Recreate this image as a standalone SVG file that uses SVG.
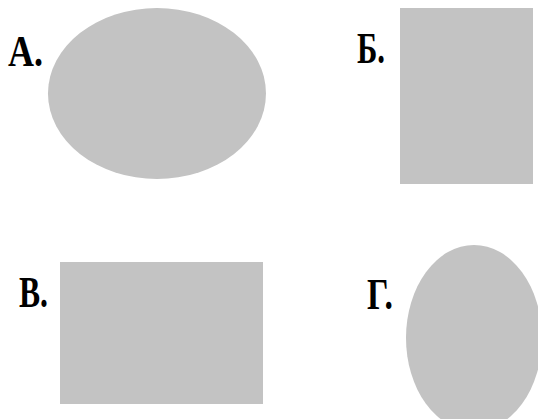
<svg xmlns="http://www.w3.org/2000/svg" width="538" height="419" viewBox="0 0 538 419">
<style>
.shape{fill:#c3c3c3;}
.lbl{font-family:"Liberation Serif","Times New Roman",serif;font-weight:bold;font-size:44px;fill:#000;}
</style>
<rect width="538" height="419" fill="#fff"/>
<g id="nodeA">
<ellipse class="shape" cx="157" cy="93.5" rx="109" ry="85.5"/>
<text class="lbl" x="8" y="66" textLength="35" lengthAdjust="spacingAndGlyphs">А.</text>
</g>
<g id="nodeB">
<rect class="shape" x="400" y="8" width="133" height="176"/>
<text class="lbl" x="357" y="63" textLength="28" lengthAdjust="spacingAndGlyphs">Б.</text>
</g>
<g id="nodeV">
<rect class="shape" x="60" y="262" width="203" height="142"/>
<text class="lbl" x="19" y="307" textLength="29" lengthAdjust="spacingAndGlyphs">В.</text>
</g>
<g id="nodeG">
<ellipse class="shape" cx="474" cy="338" rx="68" ry="93"/>
<text class="lbl" x="367" y="309" textLength="26" lengthAdjust="spacingAndGlyphs">Г.</text>
</g>
<g id="connectors"></g>
</svg>
